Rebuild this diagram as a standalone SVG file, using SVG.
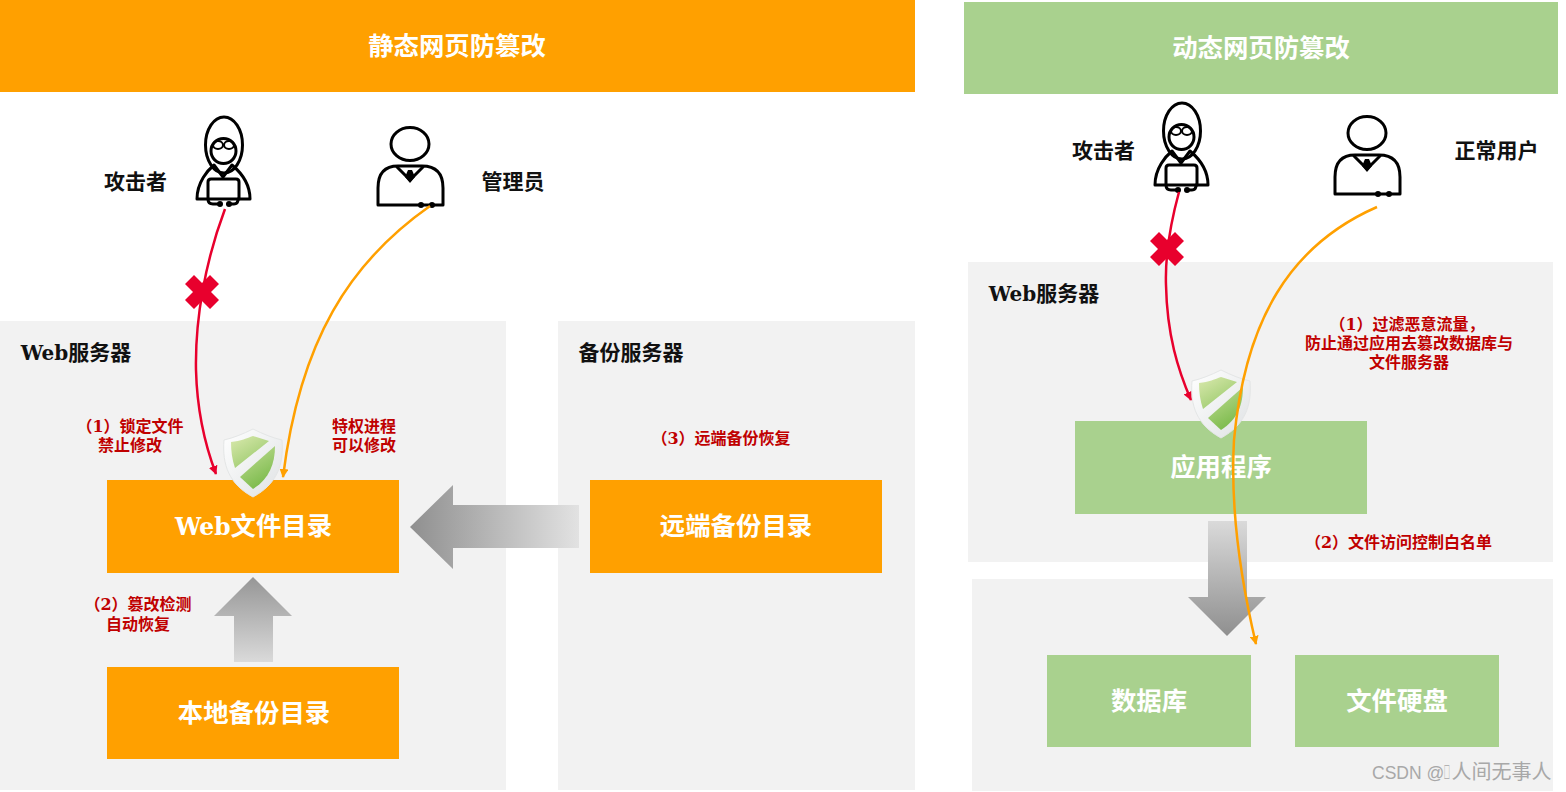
<svg xmlns="http://www.w3.org/2000/svg" width="1566" height="792" viewBox="0 0 1566 792">
<style>
text{font-family:"DejaVu Serif","Noto Sans CJK SC",serif;font-weight:700;text-anchor:middle}
.panel{fill:#f2f2f2}
.o{fill:#ffa000}
.g{fill:#a9d18e}
.title{fill:#fff;font-size:25.4px}
.box{fill:#fff;font-size:25.4px}
.latin{font-size:23.4px}
.cap{fill:#111;font-size:21px}
.capl{font-size:20px}
.note{fill:#c00000;font-size:16px}
.ink{fill:none;stroke:#000;stroke-width:3;stroke-linejoin:round;stroke-linecap:round}
.thin{stroke-width:2}
.red{fill:none;stroke:#e8002d;stroke-width:2.5}
.ora{fill:none;stroke:#ffa000;stroke-width:2.5}
.wm{font-family:"Liberation Sans","Noto Sans CJK SC",sans-serif;font-weight:400;font-size:17.500px;fill:#a8a8a8;text-anchor:start}
.wm2{font-size:20px}
</style>
<defs>
<linearGradient id="up" x1="0" y1="0" x2="0" y2="1"><stop offset="0" stop-color="#969696"/><stop offset="1" stop-color="#dadada"/></linearGradient>
<linearGradient id="down" x1="0" y1="1" x2="0" y2="0"><stop offset="0" stop-color="#8f8f8f"/><stop offset="1" stop-color="#dadada"/></linearGradient>
<linearGradient id="left" x1="0" y1="0" x2="1" y2="0"><stop offset="0" stop-color="#8f8f8f"/><stop offset="1" stop-color="#e2e2e2"/></linearGradient>
<linearGradient id="sh" x1="0" y1="0" x2="1" y2="1"><stop offset="0" stop-color="#ffffff"/><stop offset="1" stop-color="#dfe2e4"/></linearGradient>
<linearGradient id="gr" gradientUnits="userSpaceOnUse" x1="-18" y1="6" x2="14" y2="60"><stop offset="0" stop-color="#d8e8ac"/><stop offset="1" stop-color="#74b744"/></linearGradient>
<marker id="ar" viewBox="0 0 10 10" refX="9" refY="5" markerWidth="3.600" markerHeight="3.600" orient="auto"><path d="M0,0L10,5L0,10z" fill="#e8002d"/></marker>
<marker id="ao" viewBox="0 0 10 10" refX="9" refY="5" markerWidth="3.600" markerHeight="3.600" orient="auto"><path d="M0,0L10,5L0,10z" fill="#ffa000"/></marker>
<symbol id="attacker" overflow="visible">
<g class="ink">
<ellipse cx="224" cy="145" rx="18.500" ry="28"/>
<circle cx="223.500" cy="151" r="12.500"/>
<ellipse cx="218" cy="145" rx="5" ry="4" class="thin"/><ellipse cx="229" cy="145" rx="5" ry="4" class="thin"/>
<path d="M197,199C197,182 208,170 214,165L223,177L232,165C238,170 250,182 250,199Z"/>
<path d="M208,199V182Q208,179 211,179H236Q239,179 239,182V199"/>
<path d="M208,199Q208,204 213,204H218M228,204H234Q238,204 238,199"/>
</g>
<circle cx="220" cy="204" r="3"/><circle cx="229" cy="204" r="3"/>
</symbol>
<symbol id="user" overflow="visible">
<g class="ink">
<ellipse cx="410" cy="144" rx="19" ry="16.500"/>
<path d="M378,205V188Q378,166 398,166H422Q443,166 443,188V205Z"/>
<path d="M397,167L410,180L423,167"/>
</g>
<path d="M408,170H412L415,177L410,183L405,177Z"/>
<circle cx="421" cy="205" r="3"/><circle cx="432" cy="205" r="3"/>
</symbol>
<symbol id="shield" overflow="visible">
<path d="M0,0C10,5 20,9 29,11C31,36 24,55 0,68C-24,55 -31,36 -29,11C-20,9 -10,5 0,0Z" fill="url(#sh)" stroke="#e4e6e6" stroke-width="1"/>
<path d="M-22,13C-12,12 -6,9 0,7L16,12L-18,39C-21,30 -22,22 -22,13Z" fill="url(#gr)"/>
<path d="M22,17C22,35 16,50 0,60L-13,48Z" fill="url(#gr)"/>
</symbol>
<path id="cross" d="M-8,-17L0,-9L8,-17L17,-8L9,0L17,8L8,17L0,9L-8,17L-17,8L-9,0L-17,-8Z" fill="#e8002d"/>
</defs>
<rect width="1566" height="792" fill="#fff"/>

<g id="panels">
<rect class="panel" x="0" y="321" width="506" height="469"/>
<rect class="panel" x="558" y="321" width="357" height="469"/>
<rect class="panel" x="968" y="262" width="585" height="300"/>
<rect class="panel" x="972" y="579" width="581" height="212"/>
</g>

<g id="header-static"><rect class="o" x="0" y="0" width="915" height="92"/><text class="title" x="457" y="55">静态网页防篡改</text></g>
<g id="header-dynamic"><rect class="g" x="964" y="2" width="594" height="92"/><text class="title" x="1261" y="57">动态网页防篡改</text></g>

<g id="big-arrows">
<path d="M253,577L292,616H273V662H234V616H214Z" fill="url(#up)"/>
<path d="M410,527L453,485V505H579V548H453V569Z" fill="url(#left)"/>
<path d="M1208,521H1247V597H1266L1227,636L1188,597H1208Z" fill="url(#down)"/>
</g>

<g id="node-web"><rect class="o" x="107" y="480" width="292" height="93"/><text class="box" x="253.500" y="535"><tspan class="latin">Web</tspan>文件目录</text></g>
<g id="node-local"><rect class="o" x="107" y="667" width="292" height="92"/><text class="box" x="254" y="722">本地备份目录</text></g>
<g id="node-remote"><rect class="o" x="590" y="480" width="292" height="93"/><text class="box" x="736" y="535">远端备份目录</text></g>
<g id="node-app"><rect class="g" x="1075" y="421" width="292" height="93"/><text class="box" x="1221" y="476">应用程序</text></g>
<g id="node-db"><rect class="g" x="1047" y="655" width="204" height="92"/><text class="box" x="1149" y="710">数据库</text></g>
<g id="node-file"><rect class="g" x="1295" y="655" width="204" height="92"/><text class="box" x="1397" y="710">文件硬盘</text></g>

<g id="node-attacker-left"><use href="#attacker"/><text class="cap" x="135.500" y="189">攻击者</text></g>
<g id="node-admin"><use href="#user"/><text class="cap" x="513" y="189">管理员</text></g>
<g id="node-attacker-right"><use href="#attacker" x="958" y="-14"/><text class="cap" x="1103.500" y="158">攻击者</text></g>
<g id="node-user"><use href="#user" x="957" y="-11"/><text class="cap" x="1496.500" y="158">正常用户</text></g>

<g id="connectors">
<path class="red" d="M225,209C205,262 195,320 196,370C197,410 205,445 216,474" marker-end="url(#ar)"/>
<path class="ora" d="M430,206C350,262 300,340 283,477" marker-end="url(#ao)"/>
<path class="red" d="M1179,192C1170,225 1165,255 1166,285C1167,335 1178,370 1191,400" marker-end="url(#ar)"/>
</g>

<g id="node-shield-left"><use href="#shield" x="253" y="429"/></g>
<g id="node-shield-right"><use href="#shield" x="1221" y="370"/></g>
<g id="connectors-over">
<path class="ora" d="M1377,207C1290,245 1245,320 1234,440C1230,510 1242,585 1256,644" marker-end="url(#ao)"/>
</g>
<use href="#cross" x="202" y="292"/>
<use href="#cross" x="1167" y="249"/>

<g id="captions">
<text class="cap" x="76" y="360"><tspan class="capl">Web</tspan>服务器</text>
<text class="cap" x="631" y="360">备份服务器</text>
<text class="cap" x="1044" y="301"><tspan class="capl">Web</tspan>服务器</text>
</g>
<g id="notes">
<text class="note" x="130" y="432">（1）锁定文件</text>
<text class="note" x="130" y="451">禁止修改</text>
<text class="note" x="364" y="432">特权进程</text>
<text class="note" x="364" y="451">可以修改</text>
<text class="note" x="138" y="610">（2）篡改检测</text>
<text class="note" x="138" y="630">自动恢复</text>
<text class="note" x="721" y="444">（3）远端备份恢复</text>
<text class="note" x="1407" y="330">（1）过滤恶意流量，</text>
<text class="note" x="1409" y="349">防止通过应用去篡改数据库与</text>
<text class="note" x="1409" y="368">文件服务器</text>
<text class="note" x="1398.500" y="548">（2）文件访问控制白名单</text>
</g>
<text class="wm" x="1372" y="779">CSDN @<tspan class="wm2" x="1451.500">人间无事人</tspan></text>
<text class="wm" transform="translate(1443.500,779) scale(.45,1)" style="font-size:20px">&#xE000;</text>
</svg>
